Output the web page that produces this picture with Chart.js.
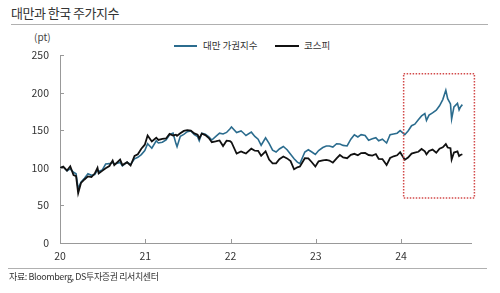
<!DOCTYPE html>
<html>
<head>
<meta charset="utf-8">
<script src="https://cdn.jsdelivr.net/npm/chart.js@4.4.1/dist/chart.umd.min.js"></script>
<style>
  body { margin: 0; width: 500px; height: 293px; background: #fff; overflow: hidden; position: relative;
         font-family: "Noto Sans CJK KR", "Noto Sans", sans-serif; color: #333; }
  #wrap { position: absolute; left: 0; top: 0; width: 500px; height: 293px; }
  .txt { position: absolute; white-space: nowrap; }
  .rule { position: absolute; height: 1px; background: #b0b0b0; }
  .leg { position: absolute; height: 2px; }
</style>
</head>
<body>
<div class="txt" style="left:11px; top:3px; font-size:13px; letter-spacing:-0.5px;">대만과 한국 주가지수</div>
<div class="rule" style="left:11px; top:24px; width:477px;"></div>

<div class="txt" style="left:34px; top:29px; font-size:10px; color:#444;">(pt)</div>

<div class="leg" style="left:174px; top:45px; width:23px; background:#2b6c8e;"></div>
<div class="txt" style="left:203px; top:38px; font-size:9.5px;">대만 가권지수</div>
<div class="leg" style="left:275px; top:45px; width:24px; background:#111;"></div>
<div class="txt" style="left:304px; top:38px; font-size:9.5px;">코스피</div>

<div id="wrap"><canvas id="chart" width="500" height="293"></canvas></div>

<div class="rule" style="left:8px; top:268px; width:479px;"></div>
<div class="txt" style="left:9px; top:270px; font-size:9px; letter-spacing:-0.4px;">자료: Bloomberg, DS투자증권 리서치센터</div>

<script>
// 2020.1 = 100 기준
const dates = [
  '2020-01-02','2020-01-15','2020-01-31','2020-02-14','2020-02-28','2020-03-10','2020-03-19','2020-03-31','2020-04-15','2020-04-30','2020-05-15','2020-05-29','2020-06-10','2020-06-15','2020-06-30','2020-07-15','2020-07-31','2020-08-14','2020-08-21','2020-09-15','2020-09-25','2020-10-15','2020-10-30','2020-11-16','2020-11-30','2020-12-15','2020-12-30',
  '2021-01-11','2021-01-29','2021-02-17','2021-02-26','2021-03-15','2021-03-31','2021-04-15','2021-04-30','2021-05-12','2021-05-17','2021-05-31','2021-06-15','2021-06-30','2021-07-15','2021-07-30','2021-08-13','2021-08-20','2021-08-31','2021-09-15','2021-09-30','2021-10-13','2021-10-29','2021-11-15','2021-11-30','2021-12-15','2021-12-30',
  '2022-01-05','2022-01-27','2022-02-15','2022-02-24','2022-03-08','2022-03-31','2022-04-15','2022-04-29','2022-05-12','2022-05-31','2022-06-15','2022-06-30','2022-07-15','2022-07-29','2022-08-15','2022-08-31','2022-09-15','2022-09-30','2022-10-14','2022-10-25','2022-11-15','2022-11-30','2022-12-15','2022-12-30',
  '2023-01-13','2023-01-31','2023-02-15','2023-02-28','2023-03-15','2023-03-31','2023-04-14','2023-04-28','2023-05-15','2023-05-31','2023-06-15','2023-06-30','2023-07-14','2023-07-31','2023-08-15','2023-08-31','2023-09-15','2023-09-27','2023-10-13','2023-10-31','2023-11-15','2023-11-30','2023-12-15','2023-12-28',
  '2024-01-17','2024-01-31','2024-02-15','2024-02-29','2024-03-15','2024-03-29','2024-04-12','2024-04-19','2024-04-30','2024-05-15','2024-05-31','2024-06-14','2024-06-28','2024-07-11','2024-07-19','2024-07-31','2024-08-05','2024-08-15','2024-08-30','2024-09-06','2024-09-12','2024-09-20'
];

const taiex = [
  100,101,96,98.5,94,92,72,81,86,92,90,91,97,95,97,105,105.5,107,105,107,102.5,107.5,104.5,112,114,117.5,123,
  132,126,136,133,134,137,144,146,132.5,128,142,144.5,148,149,144,141.5,136,146,144.6,141,137,141.5,146,145,147,152,
  154.4,147,149,146.6,143,147.4,141.7,138,130,140,132.5,123.5,121,125,128.3,124,118,112,107.5,105.5,121,124,121,117.8,
  123,127,129,129,127.5,132,131.7,129.8,129,138,144,141,144,143,136.7,138.6,140,136,138,133,144,145,146,149.4,
  144,149,156,158,164,169,172,163,170,173,176.5,182.5,190.7,203,192,185,165,181,185.6,177,181,184
];

const kospi = [
  100,101.5,96.4,102,90.4,89,66.3,79.8,84.5,88.6,87.7,92.3,99.9,92.4,95.9,99.3,102.3,109.5,103.5,111,103.6,107.4,103,115.7,117.9,125.4,130.7,
  143,135,140,137,138.5,139,145,143,144,142.6,145.8,149,150,149.5,145.7,144,139,145.5,143.5,139.6,134,135,136.4,129,136,135.4,
  134,119,121.8,120.5,119,125.4,122.7,122.6,116,122,111,106,106,111.5,115,112.5,109,98,100.6,101.7,112.8,112.5,107.4,101.7,
  108.6,110,110.5,109.7,106.8,112.6,117,113.8,112.8,117.2,118.6,116.7,119.6,119.7,117,116.3,118.3,112,111.7,103.6,113,115.3,116.6,120.8,
  110.8,113.6,118.9,120.2,121.3,125,122,117.9,122.5,124.2,120,125.5,127.3,131.5,127,126,111,120.3,121.7,115.7,117,118
];

const xTicks = [20, 21, 22, 23, 24];
const yTicks = [0, 50, 100, 150, 200, 250];
// 강조 박스 (x: 연도, y: pt)
const boxX = [24.03, 24.86];
const boxY = [60, 225];

// '2021-05-12' -> 21.36
const toYear = (s) => {
  const d = new Date(s + 'T00:00:00Z');
  const y = d.getUTCFullYear();
  const a = Date.UTC(y, 0, 1), b = Date.UTC(y + 1, 0, 1);
  return y - 2000 + (d - a) / (b - a);
};

const xs = dates.map(toYear);
const pts = (arr) => arr.map((v, i) => ({ x: xs[i], y: v }));

const overlay = {
  id: 'overlay',
  afterDatasetsDraw(chart) {
    const { ctx, scales: { x, y } } = chart;
    ctx.save();
    ctx.strokeStyle = '#999';
    ctx.lineWidth = 1;
    yTicks.forEach((v) => {
      const py = Math.round(y.getPixelForValue(v)) + 0.5;
      ctx.beginPath(); ctx.moveTo(x.left, py); ctx.lineTo(x.left + 4, py); ctx.stroke();
    });
    xTicks.forEach((v) => {
      const px = Math.round(x.getPixelForValue(v)) + 0.5;
      ctx.beginPath(); ctx.moveTo(px, y.bottom); ctx.lineTo(px, y.bottom - 4); ctx.stroke();
    });
    // red dotted box
    const l = x.getPixelForValue(boxX[0]), r = x.getPixelForValue(boxX[1]);
    const t = y.getPixelForValue(boxY[1]), b = y.getPixelForValue(boxY[0]);
    ctx.strokeStyle = '#d24a4a';
    ctx.lineWidth = 1.5;
    ctx.setLineDash([1.5, 1.5]);
    ctx.strokeRect(l, t, r - l, b - t);
    ctx.restore();
  }
};

new Chart(document.getElementById('chart'), {
  type: 'line',
  data: {
    datasets: [
      { label: '대만 가권지수', data: pts(taiex), borderColor: '#2b6c8e', borderWidth: 1.6, order: 1 },
      { label: '코스피', data: pts(kospi), borderColor: '#111', borderWidth: 1.8, order: 0 }
    ]
  },
  options: {
    responsive: false,
    animation: false,
    events: [],
    elements: { point: { radius: 0 }, line: { tension: 0 } },
    layout: { padding: { left: 0, top: 55, right: 29, bottom: 24 } },
    plugins: { legend: { display: false }, tooltip: { enabled: false } },
    scales: {
      x: {
        type: 'linear',
        min: 20,
        max: 24.82,
        afterBuildTicks: (s) => { s.ticks = xTicks.map((v) => ({ value: v })); },
        afterFit: (s) => { s.height = 26; },
        grid: { display: true, drawOnChartArea: false, drawTicks: false },
        border: { color: '#999', width: 1 },
        ticks: { padding: 7, color: '#333', font: { family: 'Noto Sans CJK KR', size: 10.5 }, maxRotation: 0, callback: (v) => String(v) }
      },
      y: {
        min: 0,
        max: 250,
        afterBuildTicks: (s) => { s.ticks = yTicks.map((v) => ({ value: v })); },
        afterFit: (s) => { s.width = 60; },
        grid: { display: true, drawOnChartArea: false, drawTicks: false },
        border: { color: '#999', width: 1 },
        ticks: { padding: 11, color: '#333', font: { family: 'Noto Sans CJK KR', size: 10.5 } }
      }
    }
  },
  plugins: [overlay]
});
</script>
</body>
